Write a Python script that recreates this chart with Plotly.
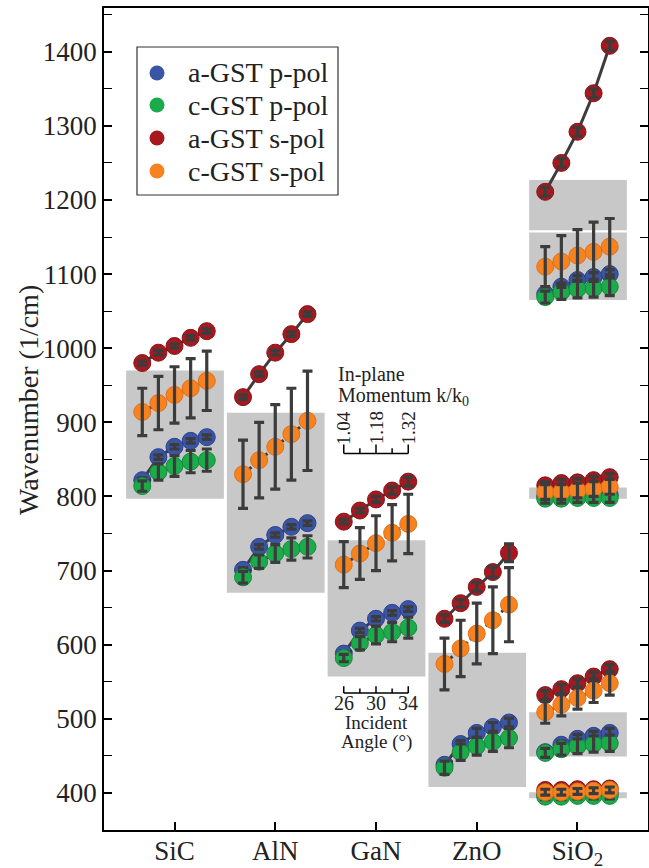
import plotly.graph_objects as go

# ---------------- data ----------------
categories = ["SiC", "AlN", "GaN", "ZnO", "SiO<sub>2</sub>"]
angles = [26, 28, 30, 32, 34]
momentum_labels = ["1.04", "1.18", "1.32"]
momentum_angles = [26, 30, 34]
angle_label_vals = [26, 30, 34]

# each group of 5 points (one per incident angle) sits at one category
group_cat = [0, 1, 2, 3, 4, 4, 4, 4]

a_p = [[822, 853, 867, 875, 880],
       [701, 732, 748, 759, 764],
       [588, 619, 635, 643, 648],
       [438, 466, 481, 489, 495],
       [1073, 1083, 1092, 1096, 1100],
       [800, 801, 801, 802, 802],
       [455, 465, 473, 477, 481],
       [398, 398, 399, 399, 400]]
a_p_err = [[3, 3, 3, 3, 3],
           [3, 3, 3, 3, 3],
           [3, 3, 3, 3, 3],
           [5, 5, 6, 6, 6],
           [5, 5, 6, 6, 6],
           [4, 4, 4, 4, 4],
           [5, 5, 6, 6, 6],
           [3, 3, 3, 3, 3]]

c_p = [[814, 833, 841, 847, 849],
       [691, 712, 723, 729, 732],
       [582, 602, 613, 617, 623],
       [434, 455, 463, 469, 474],
       [1069, 1076, 1080, 1081, 1083],
       [797, 797, 798, 798, 798],
       [454, 459, 463, 466, 467],
       [395, 395, 396, 396, 396]]
c_p_err = [[7, 11, 14, 15, 15],
           [8, 9, 12, 15, 15],
           [5, 9, 12, 13, 14],
           [9, 11, 12, 13, 13],
           [8, 10, 12, 12, 12],
           [6, 6, 6, 6, 6],
           [6, 8, 10, 11, 11],
           [4, 4, 4, 4, 4]]

a_s = [[980, 994, 1003, 1014, 1023],
       [934, 965, 994, 1019, 1046],
       [766, 781, 796, 808, 820],
       [635, 656, 678, 698, 724],
       [1211, 1250, 1292, 1344, 1408],
       [815, 818, 819, 822, 826],
       [532, 540, 548, 557, 567],
       [404, 404, 405, 405, 406]]
a_s_err = [[3, 3, 3, 3, 3],
           [3, 3, 3, 3, 3],
           [3, 3, 4, 5, 6],
           [5, 5, 6, 7, 12],
           [6, 6, 6, 6, 6],
           [5, 5, 5, 5, 5],
           [6, 6, 6, 6, 6],
           [3, 3, 3, 3, 3]]

c_s = [[914, 926, 937, 946, 956],
       [830, 849, 867, 884, 902],
       [708, 723, 737, 751, 763],
       [574, 595, 615, 633, 654],
       [1110, 1117, 1125, 1130, 1137],
       [806, 806, 808, 810, 813],
       [509, 519, 528, 538, 548],
       [401, 401, 402, 403, 404]]
c_s_err = [[32, 36, 38, 40, 40],
           [46, 51, 57, 62, 67],
           [31, 35, 37, 38, 40],
           [35, 38, 41, 45, 50],
           [27, 35, 35, 40, 38],
           [10, 10, 10, 10, 10],
           [15, 15, 15, 16, 16],
           [4, 4, 4, 4, 4]]

# Reststrahlen bands (grey boxes)
band_cat = [0, 1, 2, 3, 4, 4, 4, 4, 4]
band_low = [797, 670, 557, 408, 1065, 1159, 797, 449, 393]
band_high = [970, 913, 741, 589, 1156, 1227, 812, 509, 401]

series_names = ["a-GST p-pol", "c-GST p-pol", "a-GST s-pol", "c-GST s-pol"]
series_vals = [a_p, c_p, a_s, c_s]
series_errs = [a_p_err, c_p_err, a_s_err, c_s_err]
series_colors = ["#3a55a6", "#1cab4b", "#a5191f", "#f6831f"]
series_edges = ["#2c4290", "#158a3b", "#8a1318", "#e0701a"]
series_dash = ["solid", "4px,3px", "solid", "4px,3px"]

# ---------------- styling ----------------
W, H = 649, 868
ML, MR, MT, MB = 104, 1, 8, 38
PW, PH = W - ML - MR, H - MT - MB
DEG_W = 0.08          # category units per degree of incident angle
DARK = "#3c3c3c"
GREY = "#c8c8c8"
FONT = "Liberation Serif, Times New Roman, serif"


def xpos(cat, ang):
    return cat + (ang - 30) * DEG_W


def px2paper_x(px):
    return (px - ML) / PW


def px2paper_y(py):
    return (H - MB - py) / PH


fig = go.Figure()

for name, vals, errs, col, edge, dash in zip(series_names, series_vals, series_errs,
                                           series_colors, series_edges, series_dash):
    xs, ys, es = [], [], []
    for g, cat in enumerate(group_cat):
        xs += [xpos(cat, a) for a in angles] + [None]
        ys += list(vals[g]) + [None]
        es += list(errs[g]) + [0]
    fig.add_trace(go.Scatter(
        x=xs, y=ys, mode="lines+markers", name=name, showlegend=False, hoverinfo="skip",
        line=dict(color=DARK, width=3, dash=dash),
        marker=dict(size=17, color=col, line=dict(color=edge, width=1)),
    ))
    fig.add_trace(go.Scatter(
        x=xs, y=ys, mode="markers", showlegend=False, hoverinfo="skip",
        marker=dict(size=2, opacity=0),
        error_y=dict(type="data", array=es, visible=True, color=DARK,
                     thickness=3.2, width=5),
    ))

shapes = []
for cat, lo, hi in zip(band_cat, band_low, band_high):
    shapes.append(dict(type="rect", xref="x", yref="y", layer="below",
                       x0=cat - 0.48, x1=cat + 0.49, y0=lo, y1=hi,
                       fillcolor=GREY, line=dict(width=0)))

# inset scales at GaN
gcat = 2
top_line_y, bot_line_y = 858, 535
for yy in (top_line_y, bot_line_y):
    shapes.append(dict(type="line", xref="x", yref="y",
                       x0=xpos(gcat, angles[0]), x1=xpos(gcat, angles[-1]),
                       y0=yy, y1=yy, line=dict(color="black", width=1.5)))
for a in angles:
    major = a in momentum_angles
    shapes.append(dict(type="line", xref="x", yref="y",
                       x0=xpos(gcat, a), x1=xpos(gcat, a),
                       y0=top_line_y, y1=top_line_y + (12 if major else 7),
                       line=dict(color="black", width=1.5)))
    shapes.append(dict(type="line", xref="x", yref="y",
                       x0=xpos(gcat, a), x1=xpos(gcat, a),
                       y0=bot_line_y, y1=bot_line_y + (9 if major else 6),
                       line=dict(color="black", width=1.5)))

annotations = []
for lab, a in zip(momentum_labels, momentum_angles):
    annotations.append(dict(x=xpos(gcat, a), y=892, xref="x", yref="y", text=lab,
                            textangle=-90, showarrow=False,
                            font=dict(family=FONT, size=19, color="#222")))
for a in angle_label_vals:
    annotations.append(dict(x=xpos(gcat, a), y=521, xref="x", yref="y", text=str(a),
                            showarrow=False, font=dict(family=FONT, size=20, color="#222")))
annotations += [
    dict(x=1.60, y=964, xref="x", yref="y", text="In-plane", xanchor="left",
         showarrow=False, font=dict(family=FONT, size=20, color="#222")),
    dict(x=1.60, y=935, xref="x", yref="y", text="Momentum k/k<sub>0</sub>", xanchor="left",
         showarrow=False, font=dict(family=FONT, size=20, color="#222")),
    dict(x=gcat, y=495, xref="x", yref="y", text="Incident",
         showarrow=False, font=dict(family=FONT, size=19, color="#222")),
    dict(x=gcat, y=469, xref="x", yref="y", text="Angle (°)",
         showarrow=False, font=dict(family=FONT, size=19, color="#222")),
    dict(x=px2paper_x(28), y=px2paper_y(400), xref="paper", yref="paper",
         xanchor="center", yanchor="middle",
         text="Wavenumber (1/cm)", textangle=-90, showarrow=False,
         font=dict(family=FONT, size=28, color="#222")),
]

# legend box (drawn by hand to match the reference spacing)
leg_left, leg_right, leg_top, leg_bot = 137, 338, 47, 195
shapes.append(dict(type="rect", xref="paper", yref="paper",
                   x0=px2paper_x(leg_left), x1=px2paper_x(leg_right),
                   y0=px2paper_y(leg_bot), y1=px2paper_y(leg_top),
                   fillcolor="white", line=dict(color="#333", width=1.2)))
leg_rows = [73, 105, 138, 171]
for name, col, ry in zip(series_names, series_colors, leg_rows):
    shapes.append(dict(type="circle", xref="paper", yref="paper",
                       x0=px2paper_x(157 - 7.5), x1=px2paper_x(157 + 7.5),
                       y0=px2paper_y(ry + 7.5), y1=px2paper_y(ry - 7.5),
                       fillcolor=col, line=dict(width=0)))
    annotations.append(dict(x=px2paper_x(186), y=px2paper_y(ry), xref="paper", yref="paper",
                            text=name, xanchor="left", yanchor="middle", showarrow=False,
                            font=dict(family=FONT, size=28, color="#222")))

fig.update_layout(
    width=W, height=H,
    margin=dict(l=ML, r=MR, t=MT, b=MB, autoexpand=False),
    plot_bgcolor="white", paper_bgcolor="white",
    font=dict(family=FONT, size=27, color="#222"),
    hovermode=False, showlegend=False,
    shapes=shapes, annotations=annotations,
    xaxis=dict(range=[-0.7, 4.7], tickvals=list(range(len(categories))),
               ticktext=categories, ticks="inside", ticklen=8, tickwidth=1.5,
               tickcolor="black", showline=True, linecolor="black", linewidth=1.5,
               mirror=True, showgrid=False, zeroline=False, automargin=False,
               ticklabelstandoff=-4,
               tickfont=dict(family=FONT, size=27, color="#222")),
    yaxis=dict(range=[350, 1459], tickvals=list(range(400, 1401, 100)),
               ticks="inside", ticklen=8, tickwidth=1.5, tickcolor="black",
               minor=dict(dtick=50, ticks="inside", ticklen=8, tickwidth=1.2,
                          tickcolor="black"),
               showline=True, linecolor="black", linewidth=1.5, mirror="allticks",
               showgrid=False, zeroline=False, automargin=False,
               tickfont=dict(family=FONT, size=27, color="#222")),
)

fig.write_html("out.html", config={"displayModeBar": False},
               post_script="document.body.style.margin='0';"
                           "document.body.style.overflow='hidden';")
